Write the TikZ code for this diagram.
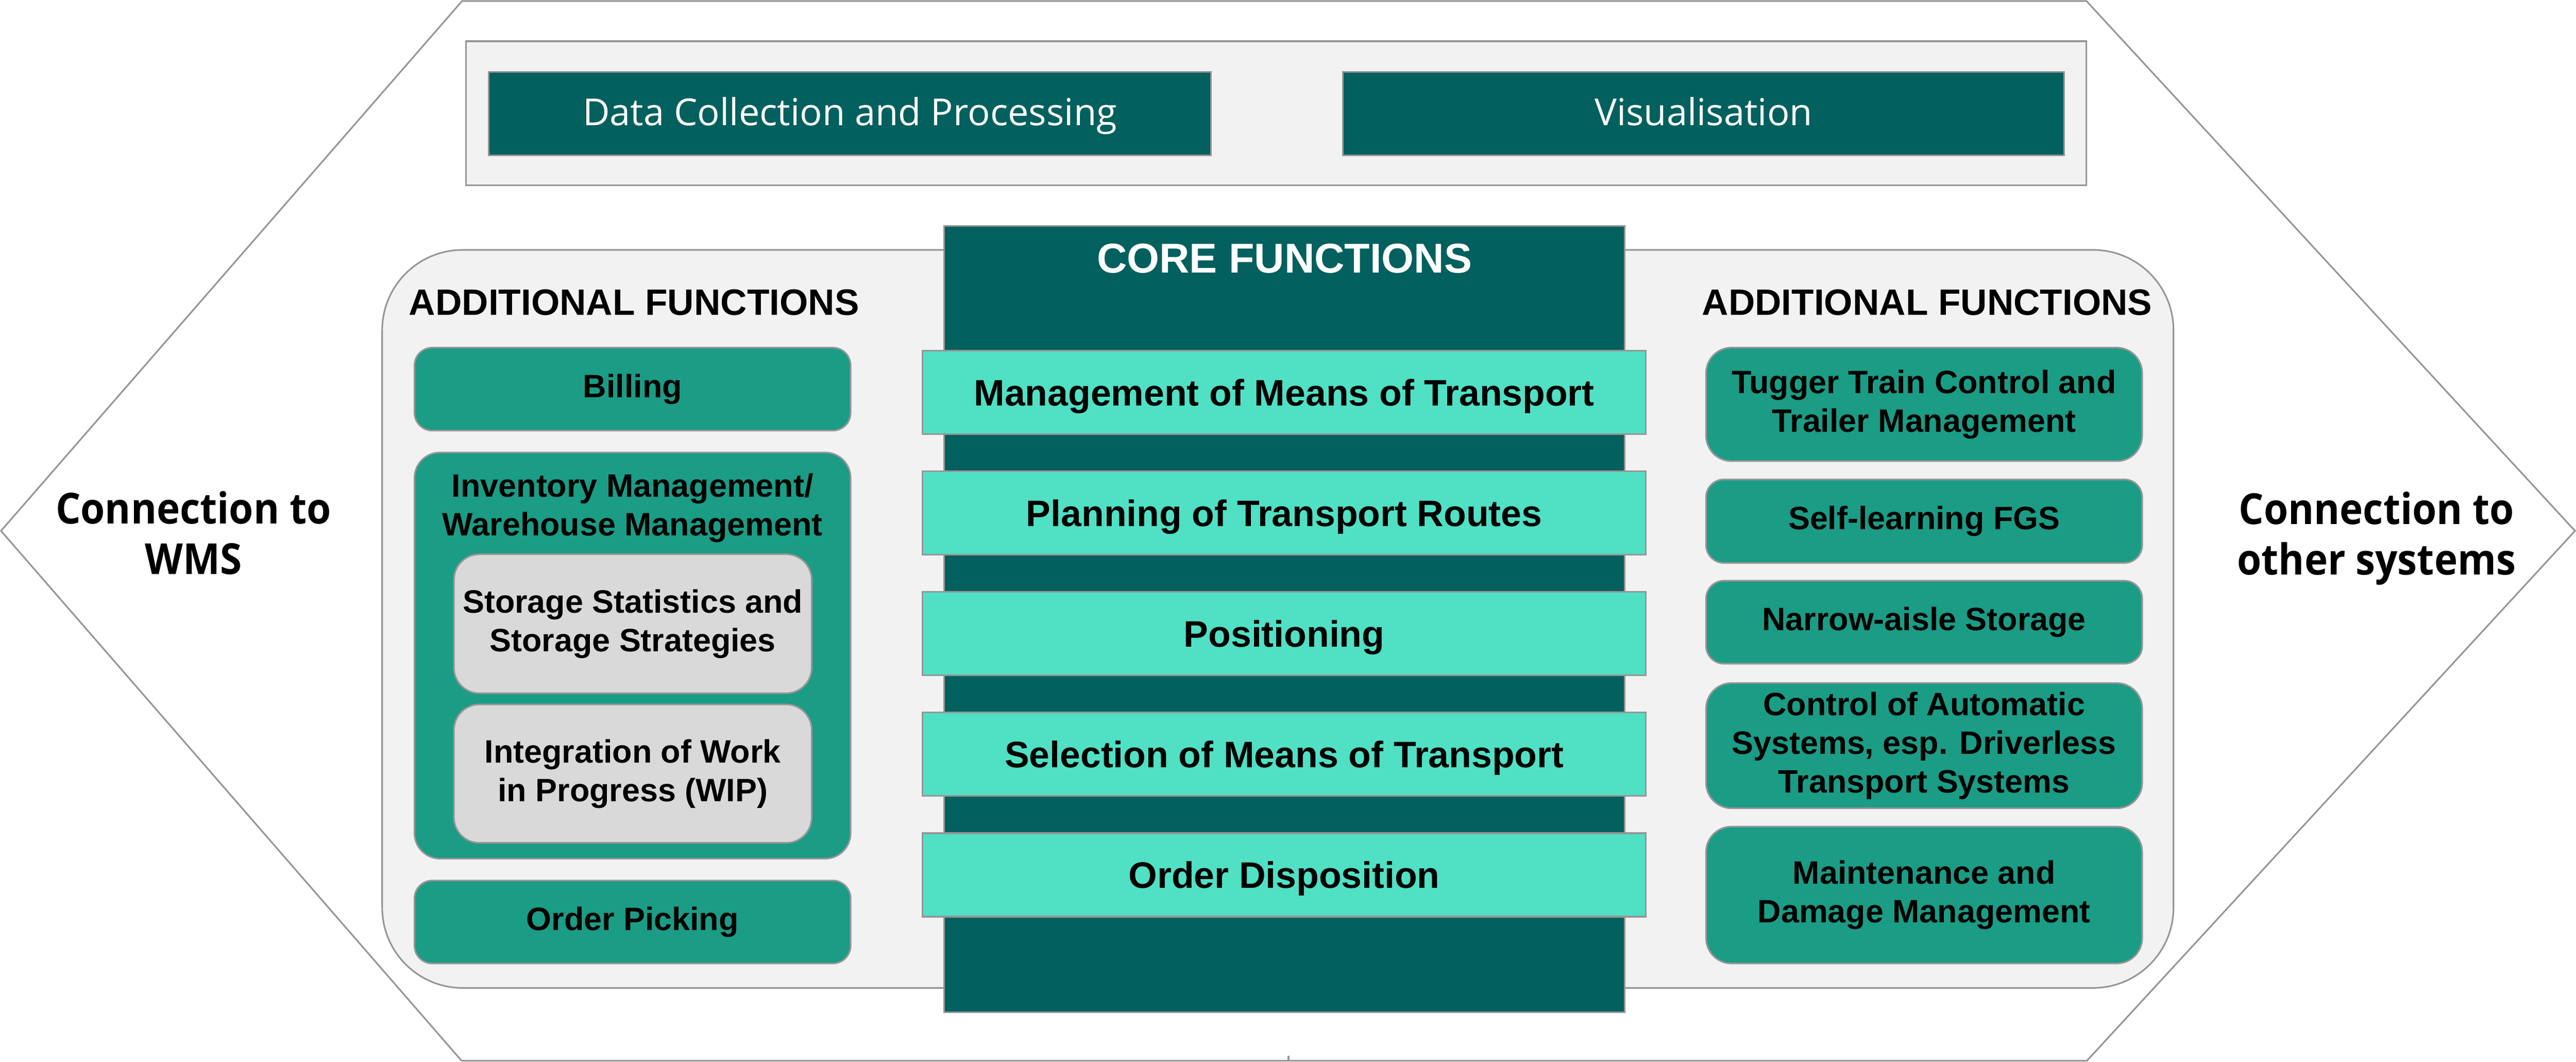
\documentclass[tikz,border=0pt]{standalone}
\usepackage{fontspec}
\setmainfont{Liberation Sans}
\newfontfamily\opensans{Open Sans}
\newfontfamily\connsans{Open Sans}[FakeStretch=0.92]
\usepackage{tikz}
\usetikzlibrary{positioning}

\definecolor{darkteal}{RGB}{2,96,94}
\definecolor{midteal}{RGB}{27,156,133}
\definecolor{aqua}{RGB}{80,224,196}
\definecolor{panelgrey}{RGB}{242,242,242}
\definecolor{subgrey}{RGB}{217,217,217}
\definecolor{linegrey}{RGB}{150,150,150}

\newcommand\itemfont{\bfseries\fontsize{18.1pt}{21.6pt}\selectfont}
\newcommand\addheadfont{\bfseries\fontsize{20.5pt}{24pt}\selectfont}
\newcommand\coreitemfont{\bfseries\fontsize{20.6pt}{24pt}\selectfont}
\newcommand\coreheadfont{\bfseries\fontsize{23.3pt}{28pt}\selectfont}
\newcommand\topboxfont{\opensans\fontsize{20.8pt}{25pt}\selectfont}
\newcommand\connfont{\connsans\bfseries\fontsize{23.9pt}{28.2pt}\selectfont}

\tikzset{
    frame/.style={draw=linegrey, line width=0.9pt},
    topbox/.style={frame, fill=darkteal, text=white, font=\topboxfont,
        minimum width=14.2cm, minimum height=1.64cm, text height=0.53cm, text depth=0.05cm},
    addbox/.style={frame, fill=midteal, rounded corners=0.35cm, align=center,
        font=\itemfont, inner sep=0pt, minimum width=8.57cm},
    tallbox/.style={addbox, rounded corners=0.5cm},
    subbox/.style={tallbox, fill=subgrey, minimum width=7.03cm, minimum height=2.73cm},
    corebox/.style={frame, fill=aqua, font=\coreitemfont, minimum width=14.21cm,
        minimum height=1.64cm, text height=0.52cm, text depth=0pt},
}

\begin{document}
\begin{tikzpicture}
    \useasboundingbox (0,0) rectangle (50.62,-20.86);

    % outer hexagon
    \draw[frame, fill=white] (0.02,-10.43) -- (9.08,-0.02) -- (41.00,-0.02) -- (50.60,-10.43)
        -- (41.01,-20.84) -- (9.07,-20.84) -- cycle;
    \draw[frame] (25.32,-20.74) -- (25.32,-20.84);

    % top panel
    \node[frame, fill=panelgrey, minimum width=31.84cm, minimum height=2.83cm] (toppanel) at (25.08,-2.225) {};
    \node[topbox] (datacoll) at (16.70,-2.23) {Data Collection and Processing};
    \node[topbox, minimum width=14.17cm] (visual) at (33.475,-2.23) {Visualisation};

    % additional functions panel and core column
    \node[frame, fill=panelgrey, rounded corners=1.58cm, minimum width=35.2cm, minimum height=14.5cm] (addpanel) at (25.11,-12.16) {};
    \node[frame, fill=darkteal, minimum width=13.38cm, minimum height=15.45cm] (core) at (25.24,-12.165) {};
    \node[text=white, font=\coreheadfont, anchor=base] (corehead) at (25.24,-5.36) {CORE FUNCTIONS};

    \node[corebox] (meansmgmt) at (25.235,-7.71) {Management of Means of Transport};
    \node[corebox] (routes) at (25.235,-10.08) {Planning of Transport Routes};
    \node[corebox] (positioning) at (25.235,-12.45) {Positioning};
    \node[corebox] (selection) at (25.235,-14.82) {Selection of Means of Transport};
    \node[corebox] (disposition) at (25.235,-17.19) {Order Disposition};

    % left column
    \node[font=\addheadfont, anchor=base] (addleft) at (12.46,-6.19) {ADDITIONAL FUNCTIONS};
    \node[addbox, minimum height=1.63cm] (billing) at (12.43,-7.645) {Billing};
    \node[tallbox, minimum height=7.98cm] (inventory) at (12.43,-12.88) {};
    \node[font=\itemfont, align=center] (invlabel) at (12.43,-9.98) {Inventory Management/\\Warehouse Management};
    \node[subbox] (storage) at (12.435,-12.255) {Storage Statistics and\\Storage Strategies};
    \node[subbox, minimum height=2.72cm] (wip) at (12.435,-15.20) {Integration of Work\\in Progress (WIP)};
    \node[addbox, minimum height=1.63cm] (picking) at (12.43,-18.115) {Order Picking};

    % right column
    \node[font=\addheadfont, anchor=base] (addright) at (37.87,-6.19) {ADDITIONAL FUNCTIONS};
    \node[tallbox, minimum height=2.23cm] (tugger) at (37.81,-7.945) {Tugger Train Control and\\Trailer Management};
    \node[addbox, minimum height=1.64cm] (selflearn) at (37.81,-10.24) {Self-learning FGS};
    \node[addbox, minimum height=1.63cm] (narrowaisle) at (37.81,-12.225) {Narrow-aisle Storage};
    \node[tallbox, minimum height=2.46cm] (automatic) at (37.81,-14.65) {Control of Automatic\\Systems, esp. Driverless\\Transport Systems};
    \node[tallbox, minimum height=2.69cm] (maintenance) at (37.81,-17.585) {Maintenance and\\Damage Management};

    % connections
    \node[font=\connfont, align=center] (wms) at (3.80,-10.475) {Connection to\\WMS};
    \node[font=\connfont, align=center] (othersys) at (46.70,-10.575) {Connection to\\other systems};
\end{tikzpicture}
\end{document}
